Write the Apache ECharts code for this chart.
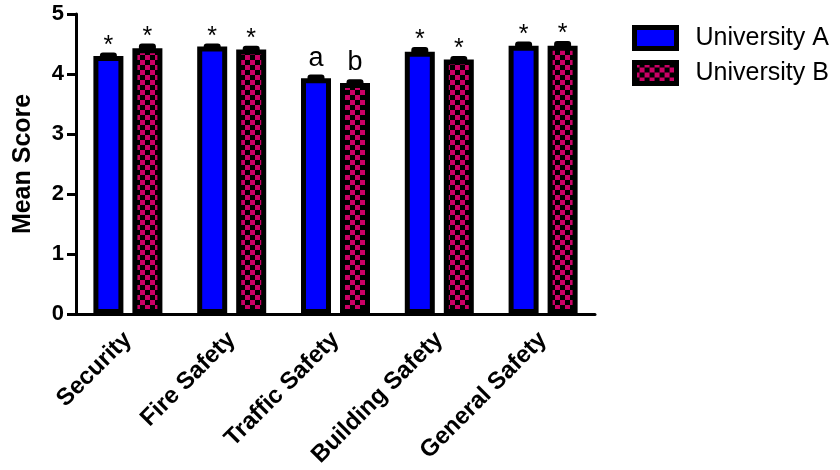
<!DOCTYPE html>
<html>
<head>
<meta charset="utf-8">
<script src="https://cdn.jsdelivr.net/npm/echarts@6/dist/echarts.min.js"></script>
<style>
html,body{margin:0;padding:0;background:#fff;}
#chart{width:840px;height:470px;}
</style>
</head>
<body>
<div id="chart"></div>
<script>
var categories = ['Security', 'Fire Safety', 'Traffic Safety', 'Building Safety', 'General Safety'];
var seriesNames = ['University A', 'University B'];
var valuesA = [4.30, 4.46, 3.93, 4.37, 4.47];
var valuesB = [4.43, 4.41, 3.85, 4.24, 4.47];
var errA = [0.06, 0.05, 0.06, 0.08, 0.07];
var errB = [0.08, 0.06, 0.06, 0.06, 0.08];
var labelsA = ['*', '*', 'a', '*', '*'];
var labelsB = ['*', '*', 'b', '*', '*'];
var yTicks = [0, 1, 2, 3, 4, 5];

var FONT = '"Liberation Sans", Arial, sans-serif';

function makeChecker() {
  var c = document.createElement('canvas');
  c.width = 10; c.height = 10;
  var ctx = c.getContext('2d');
  ctx.fillStyle = '#000000';
  ctx.fillRect(0, 0, 10, 10);
  ctx.fillStyle = '#CC0066';
  ctx.fillRect(0, 0, 5, 5);
  ctx.fillRect(5, 5, 5, 5);
  return c;
}
var checker = { image: makeChecker(), repeat: 'repeat' };

var BAR_W = 30;
var BAR_GAP = '30%';
var OFFSET = 19.5;

var errData = [];
for (var i = 0; i < categories.length; i++) {
  errData.push([i, valuesA[i], errA[i], 0, labelsA[i]]);
  errData.push([i, valuesB[i], errB[i], 1, labelsB[i]]);
}

function renderErr(params, api) {
  var idx = api.value(0);
  var v = api.value(1);
  var e = api.value(2);
  var s = api.value(3);
  var lbl = errData[params.dataIndex][4];
  var base = api.coord([idx, v]);
  var top = api.coord([idx, v + e]);
  var cx = base[0] + (s === 0 ? -OFFSET : OFFSET);
  var capW = 17;
  var y0 = base[1] + 3;
  var y1 = top[1];
  var isLetter = (lbl !== '*');
  return {
    type: 'group',
    children: [
      {
        type: 'rect',
        shape: { x: cx - capW / 2, y: y1, width: capW, height: Math.max(y0 - y1, 5), r: 3 },
        style: { fill: '#000' }
      },
      {
        type: 'text',
        style: {
          text: lbl,
          x: cx,
          y: isLetter ? y1 - 3 : y1 + 6,
          align: 'center',
          verticalAlign: 'bottom',
          fill: '#000',
          font: (isLetter ? '27px ' : '25px ') + FONT
        }
      }
    ]
  };
}

var chart = echarts.init(document.getElementById('chart'), null, { renderer: 'canvas' });
chart.setOption({
  animation: false,
  backgroundColor: '#ffffff',
  grid: { left: 76, top: 14, width: 519, height: 301, containLabel: false },
  legend: {
    left: 627, top: 20,
    orient: 'vertical',
    icon: 'rect',
    itemWidth: 42, itemHeight: 21,
    itemGap: 9,
    data: seriesNames,
    itemStyle: { borderWidth: 5, borderColor: '#000' },
    textStyle: { fontFamily: FONT, fontSize: 25, lineHeight: 26, color: '#000', padding: [0, 0, 0, 14] }
  },
  xAxis: {
    type: 'category',
    data: categories,
    axisLine: { lineStyle: { color: '#000', width: 3 } },
    axisTick: { alignWithLabel: true, length: 10, lineStyle: { color: '#000', width: 3 } },
    axisLabel: { rotate: 45, margin: 22, color: '#000', fontFamily: FONT, fontWeight: 'bold', fontSize: 24, interval: 0 },
    splitLine: { show: false }
  },
  yAxis: {
    type: 'value',
    min: 0, max: 5, interval: 1,
    name: 'Mean Score',
    nameLocation: 'middle',
    nameGap: 40,
    nameTextStyle: { fontFamily: FONT, fontWeight: 'bold', fontSize: 25, color: '#000' },
    axisLine: { show: true, lineStyle: { color: '#000', width: 3 } },
    axisTick: { show: true, length: 9, lineStyle: { color: '#000', width: 3 } },
    axisLabel: {
      margin: 12, color: '#000', fontFamily: FONT, fontWeight: 'bold', fontSize: 22,
      formatter: function (v) { return yTicks.indexOf(v) >= 0 ? String(v) : ''; }
    },
    splitLine: { show: false }
  },
  series: [
    {
      name: seriesNames[0], type: 'bar', data: valuesA,
      barWidth: BAR_W, barGap: BAR_GAP,
      itemStyle: { color: '#0000FF', borderColor: '#000', borderWidth: 5 }
    },
    {
      name: seriesNames[1], type: 'bar', data: valuesB,
      barWidth: BAR_W, barGap: BAR_GAP,
      itemStyle: { color: checker, borderColor: '#000', borderWidth: 5 }
    },
    {
      type: 'custom', renderItem: renderErr, data: errData,
      encode: { x: 0, y: 1 }, z: 5, silent: true
    }
  ]
});
</script>
</body>
</html>
